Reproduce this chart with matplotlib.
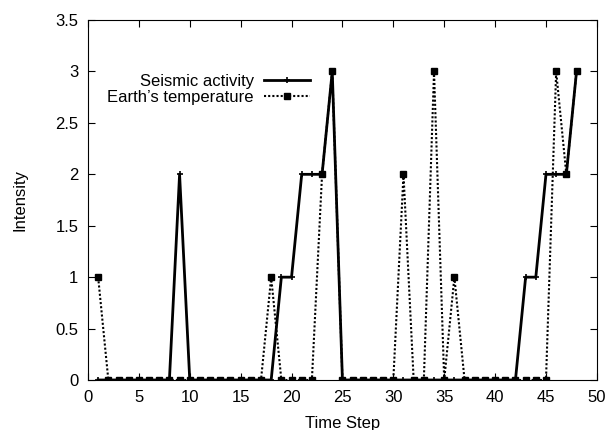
import matplotlib
matplotlib.use("Agg")
import matplotlib.pyplot as plt

plt.rcParams["font.family"] = ["Liberation Sans", "DejaVu Sans"]

time_step = list(range(1, 49))
seismic = [0, 0, 0, 0, 0, 0, 0, 0, 2, 0,
           0, 0, 0, 0, 0, 0, 0, 0, 1, 1,
           2, 2, 2, 3, 0, 0, 0, 0, 0, 0,
           0, 0, 0, 0, 0, 0, 0, 0, 0, 0,
           0, 0, 1, 1, 2, 2, 2, 3]
temperature = [1, 0, 0, 0, 0, 0, 0, 0, 0, 0,
               0, 0, 0, 0, 0, 0, 0, 1, 0, 0,
               0, 0, 2, 3, 0, 0, 0, 0, 0, 0,
               2, 0, 0, 3, 0, 1, 0, 0, 0, 0,
               0, 0, 0, 0, 0, 3, 2, 3]

fig = plt.figure(figsize=(6.08, 4.30), dpi=100)
ax = fig.add_axes([0.1447, 0.1163, 0.837, 0.837])

ax.plot(time_step, seismic, color="black", linewidth=2, marker="+",
        markersize=5, markeredgewidth=1.2, label="Seismic activity")
ax.plot(time_step, temperature, color="black", linewidth=1.5, linestyle=(0, (1, 1)),
        marker="s", markersize=4, label="Earth\u2019s temperature")

ax.set_xlim(0, 50)
ax.set_ylim(0, 3.5)
ax.set_xticks(range(0, 51, 5))
ax.set_yticks([0, 0.5, 1, 1.5, 2, 2.5, 3, 3.5])
ax.set_yticklabels(["0", "0.5", "1", "1.5", "2", "2.5", "3", "3.5"])
ax.tick_params(direction="in", top=True, right=True, labelsize=12, length=5, pad=7)
ax.set_xlabel("Time Step", fontsize=12, labelpad=8)
ax.set_ylabel("Intensity", fontsize=12, labelpad=20)

ax.legend(loc="upper right", bbox_to_anchor=(0.45, 0.868), frameon=False,
          markerfirst=False, fontsize=12, handlelength=2.8, handletextpad=0.6,
          labelspacing=0.05, borderaxespad=0)

fig.savefig("out.png", dpi=100)
